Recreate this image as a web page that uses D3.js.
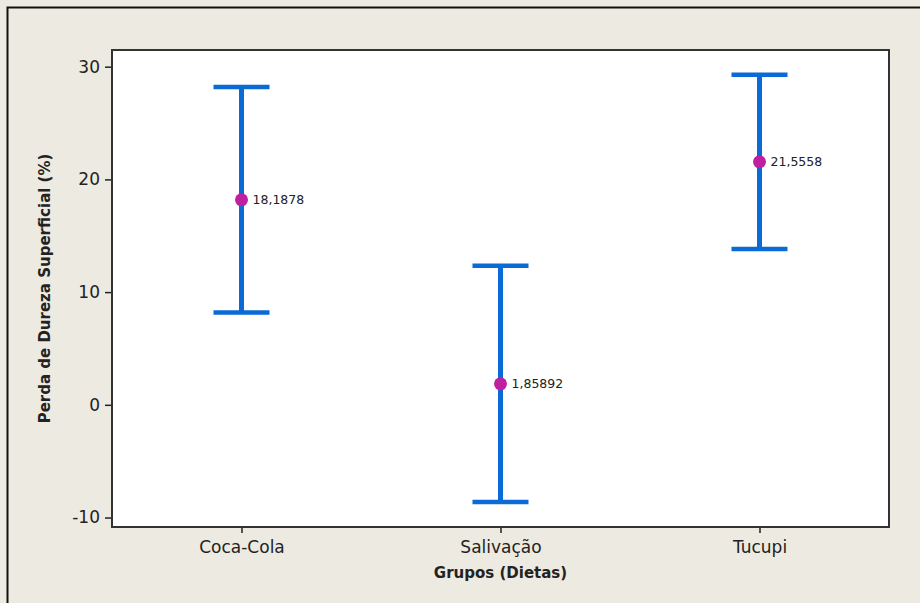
<!DOCTYPE html>
<html>
<head>
<meta charset="utf-8">
<script src="https://cdn.jsdelivr.net/npm/d3@7"></script>
<style>
  html, body { margin: 0; padding: 0; background: #edeae1; }
  svg { display: block; }
  .tick text { font-family: "DejaVu Sans", sans-serif; fill: #222; }
</style>
</head>
<body>
<div class="container"></div>
<script>
const WIDTH = 920;
const HEIGHT = 603;
const PLOT = { left: 112, top: 50, right: 889, bottom: 527 };

// data
var groups = ['Coca-Cola', 'Salivação', 'Tucupi'];
var means = [18.1878, 1.85892, 21.5558];
var lower = [8.19, -8.62, 13.82];
var upper = [28.19, 12.34, 29.29];
var meanLabels = ['18,1878', '1,85892', '21,5558'];
var yTicks = [-10, 0, 10, 20, 30];

var svg = d3.select('.container').append('svg')
  .attr('width', WIDTH)
  .attr('height', HEIGHT);

// outer frame
svg.append('rect')
  .attr('x', 7.5).attr('y', 7.5)
  .attr('width', WIDTH + 10).attr('height', HEIGHT + 10)
  .attr('fill', '#edeae1')
  .attr('stroke', '#111')
  .attr('stroke-width', 2);

var x = d3.scalePoint()
  .domain(groups)
  .range([PLOT.left, PLOT.right])
  .padding(0.5);

var y = d3.scaleLinear()
  .domain([-10.84, 31.48])
  .range([PLOT.bottom, PLOT.top]);

// plot area
svg.append('rect')
  .attr('x', PLOT.left).attr('y', PLOT.top)
  .attr('width', PLOT.right - PLOT.left)
  .attr('height', PLOT.bottom - PLOT.top)
  .attr('fill', '#fff')
  .attr('stroke', '#333')
  .attr('stroke-width', 2);

var yAxis = svg.append('g')
  .attr('transform', 'translate(' + (PLOT.left - 1) + ',0)')
  .call(d3.axisLeft(y).tickValues(yTicks).tickSize(6).tickPadding(5)
    .tickFormat(function (d) { return String(d); }));
yAxis.select('.domain').remove();
yAxis.selectAll('.tick line').attr('stroke', '#222').attr('stroke-width', 1.5);
yAxis.selectAll('.tick text').attr('font-size', 17);

var xAxis = svg.append('g')
  .attr('transform', 'translate(0,' + (PLOT.bottom + 1) + ')')
  .call(d3.axisBottom(x).tickSize(5).tickPadding(8));
xAxis.select('.domain').remove();
xAxis.selectAll('.tick line').attr('stroke', '#222').attr('stroke-width', 1.5);
xAxis.selectAll('.tick text').attr('font-size', 17);

// axis titles
svg.append('text')
  .attr('x', (PLOT.left + PLOT.right) / 2)
  .attr('y', 578)
  .attr('text-anchor', 'middle')
  .attr('font-family', 'DejaVu Sans, sans-serif')
  .attr('font-weight', 'bold')
  .attr('font-size', 15)
  .attr('fill', '#222')
  .text('Grupos (Dietas)');

svg.append('text')
  .attr('transform', 'translate(50,' + ((PLOT.top + PLOT.bottom) / 2) + ') rotate(-90)')
  .attr('text-anchor', 'middle')
  .attr('font-family', 'DejaVu Sans, sans-serif')
  .attr('font-weight', 'bold')
  .attr('font-size', 15)
  .attr('fill', '#222')
  .text('Perda de Dureza Superficial (%)');

// interval bars
var data = groups.map(function (g, i) {
  return { group: g, mean: means[i], lo: lower[i], hi: upper[i], label: meanLabels[i] };
});

var bars = svg.append('g').selectAll('g.ci')
  .data(data)
  .enter().append('g')
  .classed('ci', true);

var BLUE = '#0a6ad6';
var CAP = 28;

bars.append('line')
  .attr('x1', function (d) { return x(d.group); })
  .attr('x2', function (d) { return x(d.group); })
  .attr('y1', function (d) { return y(d.lo); })
  .attr('y2', function (d) { return y(d.hi); })
  .attr('stroke', BLUE).attr('stroke-width', 5);

bars.append('line')
  .attr('x1', function (d) { return x(d.group) - CAP; })
  .attr('x2', function (d) { return x(d.group) + CAP; })
  .attr('y1', function (d) { return y(d.hi); })
  .attr('y2', function (d) { return y(d.hi); })
  .attr('stroke', BLUE).attr('stroke-width', 4.5);

bars.append('line')
  .attr('x1', function (d) { return x(d.group) - CAP; })
  .attr('x2', function (d) { return x(d.group) + CAP; })
  .attr('y1', function (d) { return y(d.lo); })
  .attr('y2', function (d) { return y(d.lo); })
  .attr('stroke', BLUE).attr('stroke-width', 4.5);

bars.append('circle')
  .attr('cx', function (d) { return x(d.group); })
  .attr('cy', function (d) { return y(d.mean); })
  .attr('r', 6.5)
  .attr('fill', '#c01fa0');

bars.append('text')
  .attr('x', function (d) { return x(d.group) + 11; })
  .attr('y', function (d) { return y(d.mean); })
  .attr('dy', '0.35em')
  .attr('font-family', 'DejaVu Sans, sans-serif')
  .attr('font-size', 12.5)
  .attr('fill', '#222')
  .text(function (d) { return d.label; });
</script>
</body>
</html>
